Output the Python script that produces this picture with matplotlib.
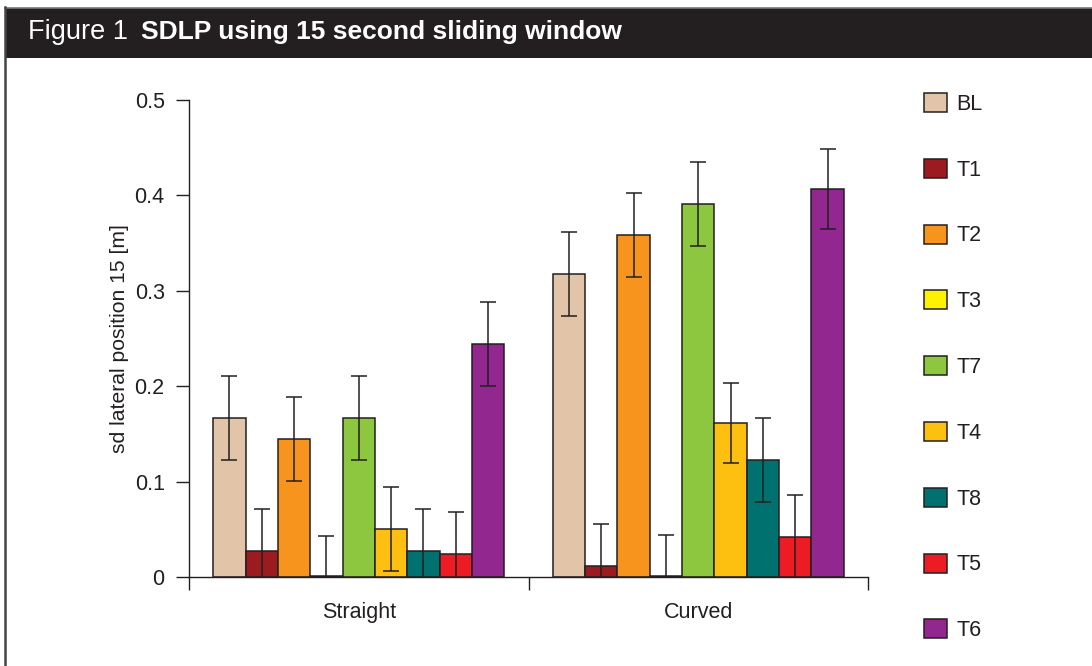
import matplotlib
matplotlib.use("Agg")
import matplotlib.pyplot as plt
from matplotlib.patches import Rectangle
from matplotlib.lines import Line2D
import numpy as np

plt.rcParams['font.family'] = ['Liberation Sans', 'DejaVu Sans']

groups = ["Straight", "Curved"]
series = ["BL", "T1", "T2", "T3", "T7", "T4", "T8", "T5", "T6"]
colors = ["#e2c4a8", "#9b1b20", "#f7941d", "#fff200", "#8dc63f",
          "#fdc010", "#00716f", "#ed1c24", "#92278f"]
straight_vals = [0.167, 0.027, 0.145, 0.001, 0.167, 0.050, 0.027, 0.024, 0.244]
curved_vals = [0.318, 0.012, 0.358, 0.001, 0.391, 0.161, 0.123, 0.042, 0.407]
straight_err = [0.044, 0.044, 0.044, 0.042, 0.044, 0.044, 0.044, 0.044, 0.044]
curved_err = [0.044, 0.044, 0.044, 0.043, 0.044, 0.042, 0.044, 0.044, 0.042]
yticks = [0, 0.1, 0.2, 0.3, 0.4, 0.5]
ytick_labels = ["0", "0.1", "0.2", "0.3", "0.4", "0.5"]

W, H = 1092, 666
fig = plt.figure(figsize=(W / 100, H / 100), dpi=100)
fig.patch.set_facecolor("white")

# title band and frame
fig.patches.append(Rectangle((5 / W, 1 - 58 / H), 1 - 5 / W, 50 / H,
                             transform=fig.transFigure, facecolor="#231f20",
                             edgecolor="none", zorder=0))
fig.lines.append(Line2D([5 / W, 1], [1 - 7.5 / H, 1 - 7.5 / H], transform=fig.transFigure,
                        color="#777777", lw=1.2))
fig.lines.append(Line2D([5 / W, 5 / W], [0, 1 - 7 / H], transform=fig.transFigure,
                        color="#444444", lw=1.8))
fig.text(28 / W, 1 - 32 / H, "Figure 1", color="white", fontsize=19.5,
         va="center", ha="left")
fig.text(141 / W, 1 - 32 / H, "SDLP using 15 second sliding window", color="white",
         fontsize=19, fontweight="bold", va="center", ha="left")

ax = fig.add_axes([189 / W, 1 - 577 / H, (868 - 189) / W, (577 - 100) / H])
edge = "#231f20"
bw = 0.0952
n = len(series)
for gi, (vals, errs) in enumerate([(straight_vals, straight_err), (curved_vals, curved_err)]):
    for i in range(n):
        x = gi + 0.5 + (i - (n - 1) / 2) * bw
        ax.bar(x, vals[i], width=bw, color=colors[i], edgecolor=edge, linewidth=1.1, zorder=2)
        ax.errorbar(x, vals[i], yerr=errs[i], fmt="none", ecolor=edge, elinewidth=1.1,
                    capsize=6, capthick=1.1, zorder=3)

ax.set_xlim(0, 2)
ax.set_ylim(0, 0.5)
ax.set_yticks(yticks)
ax.set_yticklabels(ytick_labels)
ax.set_xticks([0, 1, 2])
ax.set_xticklabels(["", "", ""])
ax.set_xticks([0.5, 1.5], minor=True)
ax.set_xticklabels(groups, minor=True)
ax.tick_params(axis="x", which="major", length=9.5, width=1.0, color=edge)
ax.tick_params(axis="x", which="minor", length=0, pad=18, labelsize=15.5, labelcolor="#231f20")
ax.tick_params(axis="y", length=9.5, width=1.0, color=edge, labelsize=15.5,
               labelcolor="#231f20", pad=8)
for s in ["top", "right"]:
    ax.spines[s].set_visible(False)
for s in ["left", "bottom"]:
    ax.spines[s].set_color(edge)
    ax.spines[s].set_linewidth(1.0)
ax.set_ylabel("sd lateral position 15 [m]", fontsize=15.2, color="#231f20")
ax.yaxis.set_label_coords((129 - 189) / (868 - 189), 0.5)

handles = [Rectangle((0, 0), 1, 1, facecolor=c, edgecolor=edge, linewidth=1.1) for c in colors]
fig.legend(handles, series, loc="upper left", bbox_to_anchor=(924 / W, 1 - 93 / H),
           frameon=False, fontsize=15.5, handlelength=1.07, handleheight=0.98,
           labelspacing=2.04, handletextpad=0.45, borderpad=0, borderaxespad=0,
           labelcolor="#231f20")

fig.savefig("out.png", dpi=100)
